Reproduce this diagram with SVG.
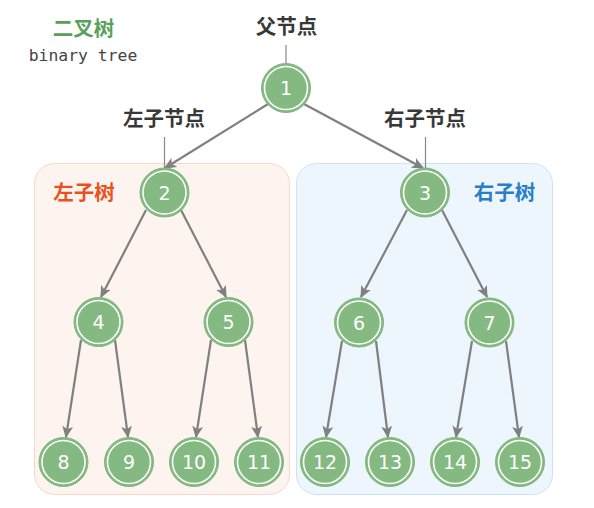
<svg xmlns="http://www.w3.org/2000/svg" width="594" height="508" viewBox="0 0 594 508">
<style>
.nd circle.o{fill:#84b981;stroke:#7fb87c;stroke-width:1}
.nd circle.i{fill:none;stroke:#ffffff;stroke-width:1.6}
.nd text{font-family:"DejaVu Sans",sans-serif;font-size:19px;fill:#ffffff;text-anchor:middle;dominant-baseline:central}
.lbl{font-family:"Noto Sans CJK SC",sans-serif;font-weight:bold;font-size:20.5px;fill:#383838;text-anchor:middle}
.ptr{stroke:#888888;stroke-width:1.2}
.e line{stroke:#808080;stroke-width:2.2;marker-end:url(#ah)}
</style>
<defs>
<marker id="ah" viewBox="0 0 10 10" refX="9" refY="5" markerWidth="5.5" markerHeight="5.5" markerUnits="strokeWidth" orient="auto">
<path d="M0,0.5 L10,5 L0,9.5 L2.5,5 Z" fill="#808080"/>
</marker>
</defs>
<rect width="594" height="508" fill="#ffffff"/>
<g id="left-subtree-bg"><rect x="34.5" y="163.5" width="255" height="331" rx="20" fill="#fdf4f0" stroke="#fad6c8" stroke-width="1"/></g>
<g id="right-subtree-bg"><rect x="296.5" y="163.5" width="256" height="331" rx="20" fill="#eef6fd" stroke="#cbe3f7" stroke-width="1"/></g>
<g id="titles">
<text x="83.5" y="36" font-family="Noto Sans CJK SC,sans-serif" font-weight="bold" font-size="20.5" fill="#59a15a" text-anchor="middle">二叉树</text>
<text x="83" y="61" font-family="DejaVu Sans Mono,monospace" font-size="16.4" fill="#444444" text-anchor="middle">binary tree</text>
<text x="84" y="200" font-family="Noto Sans CJK SC,sans-serif" font-weight="bold" font-size="20.5" fill="#e8531d" text-anchor="middle">左子树</text>
<text x="504.5" y="200" font-family="Noto Sans CJK SC,sans-serif" font-weight="bold" font-size="20.5" fill="#2a7ec8" text-anchor="middle">右子树</text>
<text class="lbl" x="286.5" y="34">父节点</text>
<text class="lbl" x="164" y="126">左子节点</text>
<text class="lbl" x="425" y="126">右子节点</text>
<line class="ptr" x1="286" y1="45" x2="286" y2="63"/>
<line class="ptr" x1="164.5" y1="137" x2="164.5" y2="168"/>
<line class="ptr" x1="425.5" y1="137" x2="425.5" y2="168"/>
</g>
<g id="connectors" class="e">
<line x1="268" y1="104" x2="165" y2="168"/>
<line x1="304" y1="104" x2="423" y2="168"/>
<line x1="146" y1="210" x2="101" y2="297"/>
<line x1="181" y1="210" x2="226" y2="297"/>
<line x1="407" y1="210" x2="361" y2="297"/>
<line x1="442" y1="210" x2="487" y2="297"/>
<line x1="81" y1="340" x2="66" y2="437"/>
<line x1="115" y1="340" x2="128" y2="437"/>
<line x1="211" y1="340" x2="196" y2="437"/>
<line x1="245" y1="340" x2="258" y2="437"/>
<line x1="342" y1="341" x2="326" y2="437"/>
<line x1="376" y1="341" x2="388" y2="437"/>
<line x1="472" y1="341" x2="456" y2="437"/>
<line x1="506" y1="341" x2="519" y2="437"/>
</g>
<g id="n1" class="nd"><circle class="o" cx="286" cy="88" r="24.5"/><circle class="i" cx="286" cy="88" r="21.5"/><text x="286" y="88">1</text></g>
<g id="n2" class="nd"><circle class="o" cx="164.5" cy="192.5" r="24.5"/><circle class="i" cx="164.5" cy="192.5" r="21.5"/><text x="164.5" y="192.5">2</text></g>
<g id="n3" class="nd"><circle class="o" cx="425" cy="192.5" r="24.5"/><circle class="i" cx="425" cy="192.5" r="21.5"/><text x="425" y="192.5">3</text></g>
<g id="n4" class="nd"><circle class="o" cx="98.5" cy="322" r="24.5"/><circle class="i" cx="98.5" cy="322" r="21.5"/><text x="98.5" y="322">4</text></g>
<g id="n5" class="nd"><circle class="o" cx="228.5" cy="322" r="24.5"/><circle class="i" cx="228.5" cy="322" r="21.5"/><text x="228.5" y="322">5</text></g>
<g id="n6" class="nd"><circle class="o" cx="359" cy="322.5" r="24.5"/><circle class="i" cx="359" cy="322.5" r="21.5"/><text x="359" y="322.5">6</text></g>
<g id="n7" class="nd"><circle class="o" cx="489.5" cy="322.5" r="24.5"/><circle class="i" cx="489.5" cy="322.5" r="21.5"/><text x="489.5" y="322.5">7</text></g>
<g id="n8" class="nd"><circle class="o" cx="63.5" cy="462" r="24.5"/><circle class="i" cx="63.5" cy="462" r="21.5"/><text x="63.5" y="462">8</text></g>
<g id="n9" class="nd"><circle class="o" cx="129" cy="462" r="24.5"/><circle class="i" cx="129" cy="462" r="21.5"/><text x="129" y="462">9</text></g>
<g id="n10" class="nd"><circle class="o" cx="194" cy="462" r="24.5"/><circle class="i" cx="194" cy="462" r="21.5"/><text x="194" y="462">10</text></g>
<g id="n11" class="nd"><circle class="o" cx="259" cy="462" r="24.5"/><circle class="i" cx="259" cy="462" r="21.5"/><text x="259" y="462">11</text></g>
<g id="n12" class="nd"><circle class="o" cx="325" cy="462" r="24.5"/><circle class="i" cx="325" cy="462" r="21.5"/><text x="325" y="462">12</text></g>
<g id="n13" class="nd"><circle class="o" cx="390" cy="462" r="24.5"/><circle class="i" cx="390" cy="462" r="21.5"/><text x="390" y="462">13</text></g>
<g id="n14" class="nd"><circle class="o" cx="455" cy="462" r="24.5"/><circle class="i" cx="455" cy="462" r="21.5"/><text x="455" y="462">14</text></g>
<g id="n15" class="nd"><circle class="o" cx="520" cy="462" r="24.5"/><circle class="i" cx="520" cy="462" r="21.5"/><text x="520" y="462">15</text></g>
</svg>
